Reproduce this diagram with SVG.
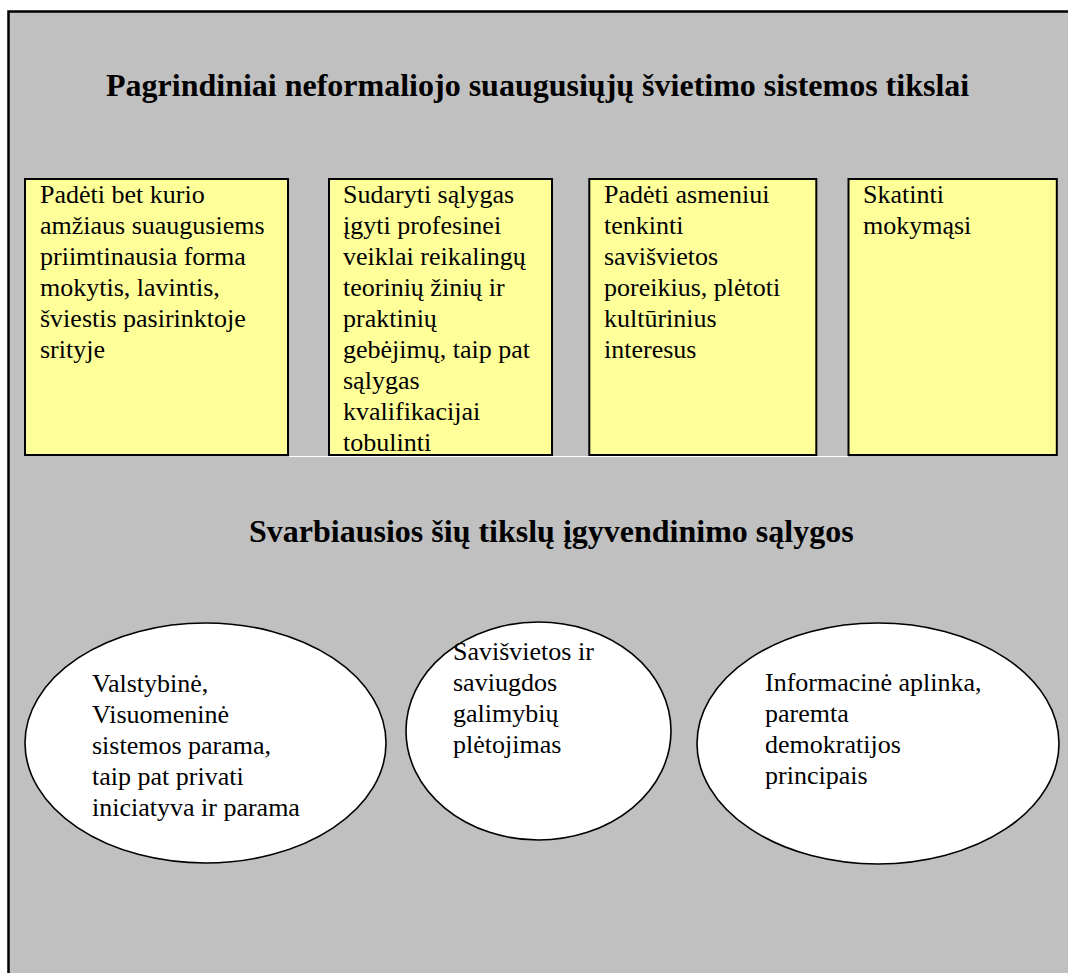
<svg xmlns="http://www.w3.org/2000/svg" width="1068" height="973" viewBox="0 0 1068 973">
<style>
.bg{fill:#C0C0C0;stroke:#000;stroke-width:2.5}
.box{fill:#FFFF99;stroke:#000;stroke-width:2}
.ell{fill:#FFFFFF;stroke:#000;stroke-width:1.6}
.t{font-family:"Liberation Serif","Times New Roman",serif;font-size:26px;fill:#000}
.h{font-family:"Liberation Serif","Times New Roman",serif;font-size:32px;font-weight:bold;fill:#000}
</style>
<rect width="1068" height="973" fill="#FFFFFF"/>
<rect class="bg" x="8.5" y="11.5" width="1080" height="990"/>
<text class="h" x="106" y="96">Pagrindiniai neformaliojo suaugusiųjų švietimo sistemos tikslai</text>
<line x1="289" y1="456.5" x2="848" y2="456.5" stroke="#FFFFFF" stroke-width="1"/>
<g id="box1">
<rect class="box" x="25" y="179" width="263" height="276"/>
<text class="t" x="40"><tspan x="40" y="203">Padėti bet kurio</tspan><tspan x="40" y="234">amžiaus suaugusiems</tspan><tspan x="40" y="265">priimtinausia forma</tspan><tspan x="40" y="296">mokytis, lavintis,</tspan><tspan x="40" y="327">šviestis pasirinktoje</tspan><tspan x="40" y="358">srityje</tspan></text>
</g>
<g id="box2">
<rect class="box" x="329" y="179" width="223" height="276"/>
<text class="t"><tspan x="343" y="203">Sudaryti sąlygas</tspan><tspan x="343" y="234">įgyti profesinei</tspan><tspan x="343" y="265">veiklai reikalingų</tspan><tspan x="343" y="296">teorinių žinių ir</tspan><tspan x="343" y="327">praktinių</tspan><tspan x="343" y="358">gebėjimų, taip pat</tspan><tspan x="343" y="389">sąlygas</tspan><tspan x="343" y="420">kvalifikacijai</tspan><tspan x="343" y="451">tobulinti</tspan></text>
</g>
<g id="box3">
<rect class="box" x="589.3" y="179" width="227" height="276"/>
<text class="t"><tspan x="604" y="203">Padėti asmeniui</tspan><tspan x="604" y="234">tenkinti</tspan><tspan x="604" y="265">savišvietos</tspan><tspan x="604" y="296">poreikius, plėtoti</tspan><tspan x="604" y="327">kultūrinius</tspan><tspan x="604" y="358">interesus</tspan></text>
</g>
<g id="box4">
<rect class="box" x="848.5" y="179" width="208.3" height="276"/>
<text class="t"><tspan x="863" y="203">Skatinti</tspan><tspan x="863" y="234">mokymąsi</tspan></text>
</g>
<text class="h" x="249" y="542">Svarbiausios šių tikslų įgyvendinimo sąlygos</text>
<g id="ellipse1">
<ellipse class="ell" cx="205.5" cy="743" rx="180.5" ry="120"/>
<text class="t"><tspan x="92" y="692">Valstybinė,</tspan><tspan x="92" y="723">Visuomeninė</tspan><tspan x="92" y="754">sistemos parama,</tspan><tspan x="92" y="785">taip pat privati</tspan><tspan x="92" y="816">iniciatyva ir parama</tspan></text>
</g>
<g id="ellipse2">
<ellipse class="ell" cx="538.5" cy="731" rx="132.5" ry="109"/>
<text class="t"><tspan x="453" y="660">Savišvietos ir</tspan><tspan x="453" y="691">saviugdos</tspan><tspan x="453" y="722">galimybių</tspan><tspan x="453" y="753">plėtojimas</tspan></text>
</g>
<g id="ellipse3">
<ellipse class="ell" cx="878" cy="743.5" rx="181" ry="120.5"/>
<text class="t"><tspan x="765" y="691">Informacinė aplinka,</tspan><tspan x="765" y="722">paremta</tspan><tspan x="765" y="753">demokratijos</tspan><tspan x="765" y="784">principais</tspan></text>
</g>
<g id="connectors"></g>
</svg>
